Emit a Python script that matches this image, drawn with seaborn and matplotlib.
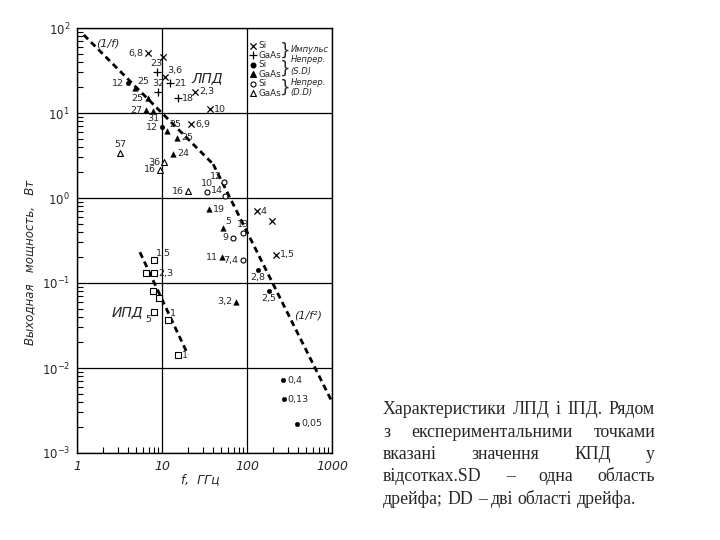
import numpy as np
import matplotlib
matplotlib.use("Agg")
import matplotlib.pyplot as plt
import seaborn as sns
from matplotlib.ticker import FixedLocator, LogLocator, NullFormatter

# Frequency (GHz) and output power (W)
si_pulse_f = [6.8, 10.3, 10.8, 24.4, 36.7, 21.9, 131, 196, 219]
si_pulse_p = [50.8, 45.6, 26.6, 17.7, 11.1, 7.4, 0.70, 0.54, 0.214]
si_pulse_lbl = ["6,8", "", "3,6", "2,3", "10", "6,9", "4", "", "1,5"]

gaas_pulse_f = [8.7, 9.0, 12.4, 15.4]
gaas_pulse_p = [30.4, 17.7, 22.5, 15.0]
gaas_pulse_lbl = ["23", "32", "21", "18"]

si_sd_f = [4.0, 10.0, 134, 181, 265, 270, 387]
si_sd_p = [22.5, 6.8, 0.142, 0.081, 0.0072, 0.0043, 0.0022]
si_sd_lbl = ["12", "12", "2,8", "2,5", "0,4", "0,13", "0,05"]

gaas_sd_f = [4.8, 6.8, 6.5, 7.8, 11.4, 15.0, 13.5, 35.8, 52, 50.6, 74]
gaas_sd_p = [19.7, 15.0, 10.8, 10.5, 6.1, 5.1, 3.3, 0.74, 0.44, 0.20, 0.06]
gaas_sd_lbl = ["25", "25", "27", "31", "25", "25", "24", "19", "5", "11", "3,2"]

si_dd_f = [34, 53.6, 55, 68, 89, 89]
si_dd_p = [1.17, 1.54, 1.05, 0.34, 0.39, 0.186]
si_dd_lbl = ["10", "12", "14", "9", "13", "7,4"]

gaas_dd_f = [3.2, 10.6, 9.5, 20.2]
gaas_dd_p = [3.4, 2.65, 2.14, 1.2]
gaas_dd_lbl = ["57", "36", "16", "16"]

ipd_f = [8.05, 6.5, 8.05, 7.8, 9.2, 8.05, 11.8, 15.4]
ipd_p = [0.187, 0.131, 0.131, 0.080, 0.067, 0.045, 0.037, 0.0142]
ipd_lbl = ["1,5", "", "2,3", "", "", "5", "1", "1"]

# dashed limit lines (end points)
lim1_f = [1.2, 40]
lim1_p = [83, 2.5]
lim2_f = [40, 1000]
lim2_p = [2.5, 0.004]
ipd_line_f = [5.5, 20.2]
ipd_line_p = [0.23, 0.0143]

# where each point label sits relative to its marker
si_pulse_pos = ["l", "", "ur", "r", "r", "r", "r", "", "r"]
gaas_pulse_pos = ["a", "a", "r", "r"]
si_sd_pos = ["l", "l", "b", "b", "r", "r", "r"]
gaas_sd_pos = ["ur", "l", "l", "b", "ur", "r", "r", "r", "ur", "l", "l"]
si_dd_pos = ["a", "ul", "ul", "l", "a", "l"]
gaas_dd_pos = ["a", "l", "l", "l"]
ipd_pos = ["ur", "", "r", "", "", "bl", "ur", "r"]

offsets = {
    "l": (-4, 0, "right", "center"),
    "r": (4, 0, "left", "center"),
    "a": (0, 4, "center", "bottom"),
    "b": (0, -3, "center", "top"),
    "ur": (2, 2, "left", "bottom"),
    "ul": (-2, 1, "right", "bottom"),
    "bl": (-3, -3, "right", "top"),
}

sns.set_style("white")
plt.rcParams["font.family"] = ["DejaVu Sans"]

fig = plt.figure(figsize=(7.2, 5.4), dpi=100)
ax = fig.add_axes([77 / 720, 1 - 453 / 540, 255 / 720, 425 / 540])
ax.set_xscale("log")
ax.set_yscale("log")

groups = [
    (si_pulse_f, si_pulse_p, si_pulse_lbl, si_pulse_pos, dict(marker="x", s=20, linewidth=0.9)),
    (gaas_pulse_f, gaas_pulse_p, gaas_pulse_lbl, gaas_pulse_pos, dict(marker="+", s=28, linewidth=0.9)),
    (si_sd_f, si_sd_p, si_sd_lbl, si_sd_pos, dict(marker="o", s=11, edgecolor="k")),
    (gaas_sd_f, gaas_sd_p, gaas_sd_lbl, gaas_sd_pos, dict(marker="^", s=16, edgecolor="k")),
    (si_dd_f, si_dd_p, si_dd_lbl, si_dd_pos, dict(marker="o", s=13, facecolor="white", edgecolor="k", linewidth=0.8)),
    (gaas_dd_f, gaas_dd_p, gaas_dd_lbl, gaas_dd_pos, dict(marker="^", s=18, facecolor="white", edgecolor="k", linewidth=0.8)),
    (ipd_f, ipd_p, ipd_lbl, ipd_pos, dict(marker="s", s=14, facecolor="white", edgecolor="k", linewidth=0.8)),
]

dash = (0, (2.2, 1.5))
for xs, ys in [(lim1_f, lim1_p), (lim2_f, lim2_p), (ipd_line_f, ipd_line_p)]:
    sns.lineplot(x=xs, y=ys, ax=ax, color="k", lw=2.0, linestyle=dash, sort=False)

for xs, ys, lbls, pos, kw in groups:
    sns.scatterplot(x=xs, y=ys, ax=ax, color="k", zorder=3, **kw)
    for x, y, t, p in zip(xs, ys, lbls, pos):
        if not t:
            continue
        dx, dy, ha, va = offsets[p]
        ax.annotate(t, (x, y), xytext=(dx, dy), textcoords="offset pixels",
                    ha=ha, va=va, fontsize=6.8)

ax.set_xlim(1, 1000)
ax.set_ylim(1e-3, 1e2)
ax.grid(True, which="major", color="k", lw=0.9)
for s in ax.spines.values():
    s.set_color("k")
    s.set_linewidth(1.0)

ax.xaxis.set_major_locator(FixedLocator([1, 10, 100, 1000]))
ax.set_xticklabels(["1", "10", "100", "1000"], fontstyle="italic", fontsize=9)
ax.yaxis.set_major_locator(FixedLocator([1e-3, 1e-2, 1e-1, 1, 10, 100]))
ax.set_yticklabels([r"$\mathit{10^{-3}}$", r"$\mathit{10^{-2}}$", r"$\mathit{10^{-1}}$",
                    r"$\mathit{10^{0}}$", r"$\mathit{10^{1}}$", r"$\mathit{10^{2}}$"], fontsize=8.5)
ax.xaxis.set_minor_locator(LogLocator(base=10, subs=np.arange(2, 10)))
ax.yaxis.set_minor_locator(LogLocator(base=10, subs=np.arange(2, 10)))
ax.xaxis.set_minor_formatter(NullFormatter())
ax.yaxis.set_minor_formatter(NullFormatter())
ax.tick_params(which="major", length=0, pad=5)
ax.tick_params(which="minor", direction="in", length=4, width=0.8, color="k",
               left=True, bottom=True, right=False, top=False)

# line and region labels
ax.text(2.3, 65, "(1/f)", fontsize=8, fontstyle="italic", ha="center", va="center")
ax.text(520, 0.042, "(1/f²)", fontsize=8, fontstyle="italic", ha="center", va="center")
ax.text(34, 25.8, "ЛПД", fontsize=10, fontstyle="italic", ha="center", va="center")
ax.text(3.9, 0.045, "ИПД", fontsize=10, fontstyle="italic", ha="center", va="center")

# legend in the upper right cell
leg_markers = [kw for *_, kw in groups[:6]]
leg_names = ["Si", "GaAs", "Si", "GaAs", "Si", "GaAs"]
for i, (kw, name) in enumerate(zip(leg_markers, leg_names)):
    yy = 0.958 - i * 0.0222
    ax.scatter([0.69], [yy], transform=ax.transAxes, color="k", zorder=4, clip_on=False, **kw)
    ax.text(0.712, yy, name, transform=ax.transAxes, fontsize=6.3, va="center")
for yy in [0.947, 0.903, 0.859]:
    ax.text(0.818, yy, "}", transform=ax.transAxes, fontsize=12, va="center", ha="center")
brace_text = [(0.949, "Импульс"), (0.925, "Непрер."), (0.898, "(S.D)"),
              (0.872, "Непрер."), (0.849, "(D.D)")]
for yy, t in brace_text:
    ax.text(0.838, yy, t, transform=ax.transAxes, fontsize=6.0, fontstyle="italic", va="center")

fig.text(30 / 720, 1 - 262 / 540, "Выходная   мощность,   Вт", rotation=90, fontsize=8.5,
         fontstyle="italic", ha="center", va="center")
fig.text(200 / 720, 1 - 480 / 540, "f,  ГГц", fontsize=9, fontstyle="italic",
         ha="center", va="center")

# justified caption on the right
caption = [
    ("Характеристики ЛПД і ІПД. Рядом", True),
    ("з експериментальними точками", True),
    ("вказані значення КПД у", True),
    ("відсотках.SD – одна область", True),
    ("дрейфа; DD – дві області дрейфа.", False),
]
fig.canvas.draw()
rend = fig.canvas.get_renderer()
x0, x1 = 383, 655
for k, (line, just) in enumerate(caption):
    words = line.split()
    texts = [fig.text(0, 0, w, fontsize=12.8, family="Liberation Serif", va="center") for w in words]
    widths = [t.get_window_extent(rend).width for t in texts]
    gap = (x1 - x0 - sum(widths)) / (len(words) - 1) if just else 4.5
    x = x0
    y = 410 + k * 22.3
    for t, w in zip(texts, widths):
        t.set_position((x / 720, 1 - y / 540))
        x += w + gap

fig.savefig("out.png", dpi=100)
